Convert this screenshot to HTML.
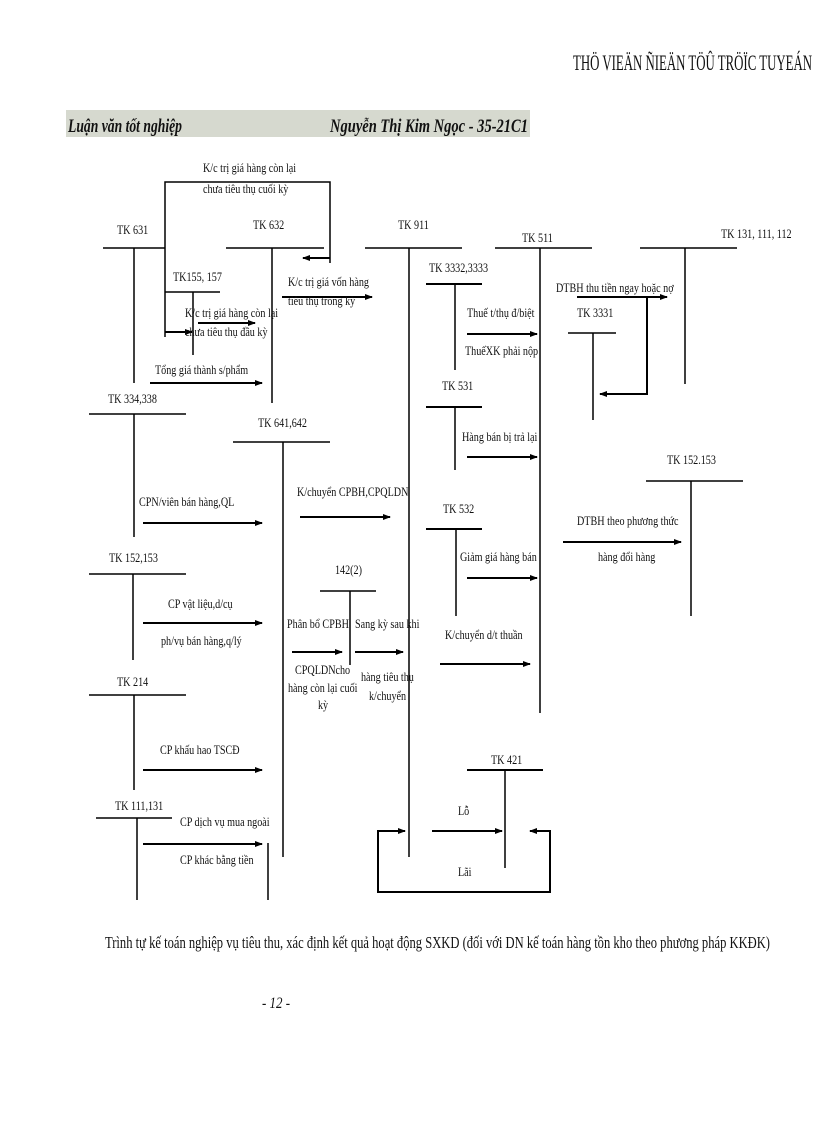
<!DOCTYPE html>
<html><head><meta charset="utf-8"><style>
html,body{margin:0;padding:0;background:#fff}
svg{display:block}
text{font-family:"Liberation Serif",serif;font-size:13px;fill:#111}
</style></head><body>
<svg width="816" height="1123" viewBox="0 0 816 1123" xmlns="http://www.w3.org/2000/svg">
<defs><marker id="a" markerWidth="8" markerHeight="8" refX="7" refY="4" orient="auto" markerUnits="userSpaceOnUse"><path d="M0,1 L8,4 L0,7 Z" fill="#000"/></marker></defs>
<text x="573" y="70" textLength="239" lengthAdjust="spacingAndGlyphs" style="font-size:22px">THÖ VIEÄN ÑIEÄN TÖÛ TRÖÏC TUYEÁN</text>
<rect x="66" y="110" width="464" height="27" fill="#d6d9cf"/>
<text x="68" y="132" textLength="114" lengthAdjust="spacingAndGlyphs" style="font-size:19px;font-weight:bold;font-style:italic">Luận văn tốt nghiệp</text>
<text x="330" y="132" textLength="198" lengthAdjust="spacingAndGlyphs" style="font-size:19px;font-weight:bold;font-style:italic">Nguyễn Thị Kim Ngọc - 35-21C1</text>
<g stroke="#000" stroke-width="1.5" fill="none">
<polyline points="165,337 165,182 330,182 330,263"/>
<line x1="330" y1="258" x2="303" y2="258" stroke-width="2" marker-end="url(#a)"/>
<line x1="103" y1="248" x2="165" y2="248"/><line x1="134" y1="248" x2="134" y2="383"/>
<line x1="226" y1="248" x2="324" y2="248"/><line x1="272" y1="248" x2="272" y2="403"/>
<line x1="365" y1="248" x2="462" y2="248"/><line x1="409" y1="248" x2="409" y2="857"/>
<line x1="495" y1="248" x2="592" y2="248"/><line x1="540" y1="248" x2="540" y2="713"/>
<line x1="640" y1="248" x2="737" y2="248"/><line x1="685" y1="248" x2="685" y2="384"/>
<line x1="165" y1="292" x2="220" y2="292"/><line x1="193" y1="292" x2="193" y2="355"/>
<line x1="426" y1="284" x2="482" y2="284" stroke-width="2"/><line x1="455" y1="284" x2="455" y2="370"/>
<line x1="426" y1="407" x2="482" y2="407" stroke-width="2"/><line x1="455" y1="407" x2="455" y2="470"/>
<line x1="426" y1="529" x2="482" y2="529" stroke-width="2"/><line x1="456" y1="529" x2="456" y2="616"/>
<line x1="568" y1="333" x2="616" y2="333"/><line x1="593" y1="333" x2="593" y2="420"/>
<line x1="646" y1="481" x2="743" y2="481"/><line x1="691" y1="481" x2="691" y2="616"/>
<line x1="89" y1="414" x2="186" y2="414"/><line x1="134" y1="414" x2="134" y2="537"/>
<line x1="233" y1="442" x2="330" y2="442"/><line x1="283" y1="442" x2="283" y2="857"/>
<line x1="89" y1="574" x2="186" y2="574"/><line x1="133" y1="574" x2="133" y2="660"/>
<line x1="320" y1="591" x2="376" y2="591"/><line x1="350" y1="591" x2="350" y2="665"/>
<line x1="89" y1="695" x2="186" y2="695"/><line x1="134" y1="695" x2="134" y2="790"/>
<line x1="96" y1="818" x2="172" y2="818"/><line x1="137" y1="818" x2="137" y2="900"/>
<line x1="268" y1="843" x2="268" y2="900"/>
<line x1="467" y1="770" x2="543" y2="770" stroke-width="2"/><line x1="505" y1="770" x2="505" y2="868"/>
<polyline points="403,831 378,831 378,892 550,892 550,831 532,831" stroke-width="2"/>
<line x1="378" y1="831" x2="405" y2="831" stroke-width="2" marker-end="url(#a)"/>
<line x1="550" y1="831" x2="530" y2="831" stroke-width="2" marker-end="url(#a)"/>
<line x1="432" y1="831" x2="502" y2="831" stroke-width="2" marker-end="url(#a)"/>
<polyline points="647,297 647,394 600,394" stroke-width="2" marker-end="url(#a)"/>
<g stroke-width="2" marker-end="url(#a)">
<line x1="165" y1="332" x2="192" y2="332"/>
<line x1="198" y1="323" x2="255" y2="323"/>
<line x1="282" y1="297" x2="372" y2="297"/>
<line x1="150" y1="383" x2="262" y2="383"/>
<line x1="467" y1="334" x2="537" y2="334"/>
<line x1="467" y1="457" x2="537" y2="457"/>
<line x1="577" y1="297" x2="667" y2="297"/>
<line x1="467" y1="578" x2="537" y2="578"/>
<line x1="563" y1="542" x2="681" y2="542"/>
<line x1="440" y1="664" x2="530" y2="664"/>
<line x1="143" y1="523" x2="262" y2="523"/>
<line x1="300" y1="517" x2="390" y2="517"/>
<line x1="143" y1="623" x2="262" y2="623"/>
<line x1="292" y1="652" x2="342" y2="652"/>
<line x1="355" y1="652" x2="403" y2="652"/>
<line x1="143" y1="770" x2="262" y2="770"/>
<line x1="143" y1="844" x2="262" y2="844"/>
</g>
</g>
<g>
<text transform="translate(203,172) scale(.78,1)">K/c trị giá hàng còn lại</text>
<text transform="translate(203,193) scale(.78,1)">chưa tiêu thụ cuối kỳ</text>
<text transform="translate(117,234) scale(.78,1)">TK 631</text>
<text transform="translate(253,229) scale(.78,1)">TK 632</text>
<text transform="translate(398,229) scale(.78,1)">TK 911</text>
<text transform="translate(522,242) scale(.78,1)">TK 511</text>
<text transform="translate(721,238) scale(.78,1)">TK 131, 111, 112</text>
<text transform="translate(173,281) scale(.78,1)">TK155, 157</text>
<text transform="translate(185,317) scale(.78,1)">K/c trị giá hàng còn lại</text>
<text transform="translate(185,336) scale(.78,1)">chưa tiêu thụ đầu kỳ</text>
<text transform="translate(288,286) scale(.78,1)">K/c trị giá vốn hàng</text>
<text transform="translate(288,305) scale(.78,1)">tiêu thụ trong kỳ</text>
<text transform="translate(155,374) scale(.78,1)">Tổng giá thành s/phẩm</text>
<text transform="translate(108,403) scale(.78,1)">TK 334,338</text>
<text transform="translate(258,427) scale(.78,1)">TK 641,642</text>
<text transform="translate(429,272) scale(.78,1)">TK 3332,3333</text>
<text transform="translate(467,317) scale(.78,1)">Thuế t/thụ đ/biệt</text>
<text transform="translate(465,355) scale(.78,1)">ThuếXK phải nộp</text>
<text transform="translate(442,390) scale(.78,1)">TK 531</text>
<text transform="translate(462,441) scale(.78,1)">Hàng bán bị trả lại</text>
<text transform="translate(556,292) scale(.78,1)">DTBH thu tiền ngay hoặc nợ</text>
<text transform="translate(577,317) scale(.78,1)">TK 3331</text>
<text transform="translate(667,464) scale(.78,1)">TK 152.153</text>
<text transform="translate(443,513) scale(.78,1)">TK 532</text>
<text transform="translate(460,561) scale(.78,1)">Giảm giá hàng bán</text>
<text transform="translate(577,525) scale(.78,1)">DTBH theo phương thức</text>
<text transform="translate(598,561) scale(.78,1)">hàng đổi hàng</text>
<text transform="translate(445,639) scale(.78,1)">K/chuyển d/t thuần</text>
<text transform="translate(491,764) scale(.78,1)">TK 421</text>
<text transform="translate(458,815) scale(.78,1)">Lỗ</text>
<text transform="translate(458,876) scale(.78,1)">Lãi</text>
<text transform="translate(297,496) scale(.78,1)">K/chuyển CPBH,CPQLDN</text>
<text transform="translate(139,506) scale(.78,1)">CPN/viên bán hàng,QL</text>
<text transform="translate(109,562) scale(.78,1)">TK 152,153</text>
<text transform="translate(168,608) scale(.78,1)">CP vật liệu,d/cụ</text>
<text transform="translate(161,645) scale(.78,1)">ph/vụ bán hàng,q/lý</text>
<text transform="translate(335,574) scale(.78,1)">142(2)</text>
<text transform="translate(287,628) scale(.78,1)">Phân bổ CPBH</text>
<text transform="translate(295,674) scale(.78,1)">CPQLDNcho</text>
<text transform="translate(288,692) scale(.78,1)">hàng còn lại cuối</text>
<text transform="translate(318,709) scale(.78,1)">kỳ</text>
<text transform="translate(355,628) scale(.78,1)">Sang kỳ sau khi</text>
<text transform="translate(361,681) scale(.78,1)">hàng tiêu thụ</text>
<text transform="translate(369,700) scale(.78,1)">k/chuyển</text>
<text transform="translate(117,686) scale(.78,1)">TK 214</text>
<text transform="translate(160,754) scale(.78,1)">CP khấu hao TSCĐ</text>
<text transform="translate(115,810) scale(.78,1)">TK 111,131</text>
<text transform="translate(180,826) scale(.78,1)">CP dịch vụ mua ngoài</text>
<text transform="translate(180,864) scale(.78,1)">CP khác bằng tiền</text>
<text x="105" y="948" textLength="665" lengthAdjust="spacingAndGlyphs" style="font-size:17px">Trình tự kế toán nghiệp vụ tiêu thu, xác định kết quả hoạt động SXKD (đối với DN kế toán hàng tồn kho theo phương pháp KKĐK)</text>
<text x="262" y="1008" textLength="28" lengthAdjust="spacingAndGlyphs" style="font-size:16px;font-style:italic">- 12 -</text>
</g>
</svg>
</body></html>
